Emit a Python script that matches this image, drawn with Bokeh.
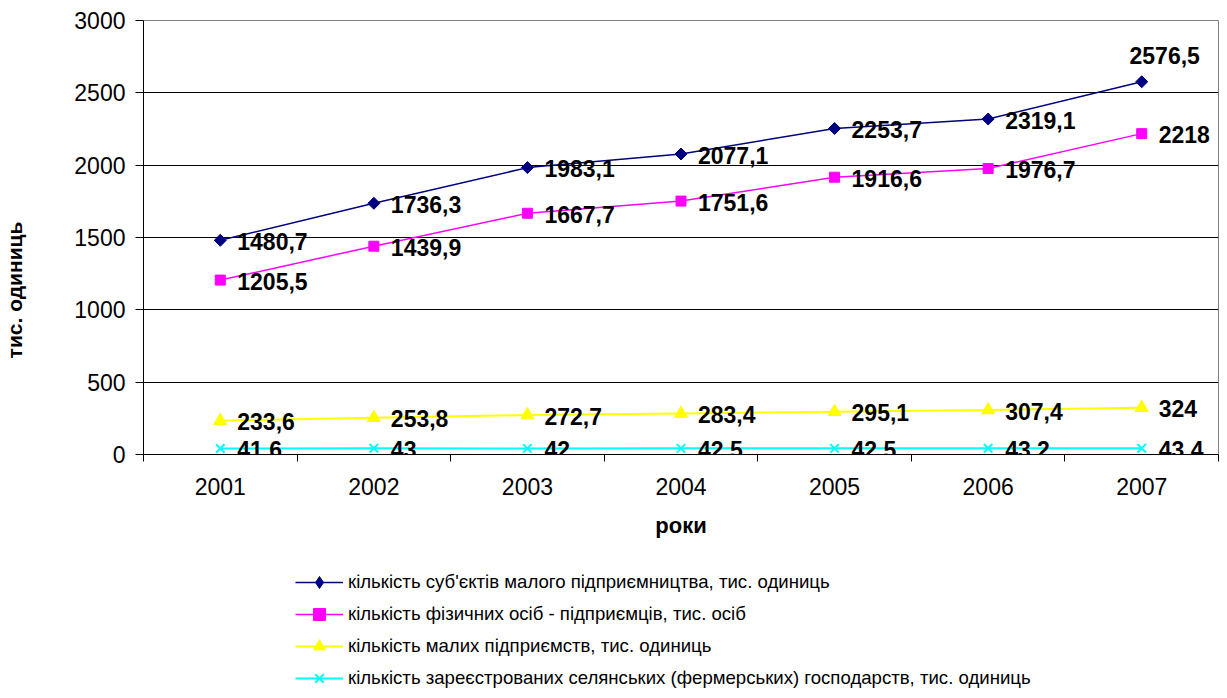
from bokeh.plotting import figure
from bokeh.layouts import column
from bokeh.models import Range1d, FixedTicker, Legend, LegendItem, ColumnDataSource
from bokeh.core.properties import value
from bokeh.embed import file_html
from bokeh.resources import INLINE
import math

years = ["2001", "2002", "2003", "2004", "2005", "2006", "2007"]
subjects = [1480.7, 1736.3, 1983.1, 2077.1, 2253.7, 2319.1, 2576.5]
persons = [1205.5, 1439.9, 1667.7, 1751.6, 1916.6, 1976.7, 2218]
small_ent = [233.6, 253.8, 272.7, 283.4, 295.1, 307.4, 324]
farms = [41.6, 43, 42, 42.5, 42.5, 43.2, 43.4]
series_names = [
    "кількість суб'єктів малого підприємництва, тис. одиниць",
    "кількість фізичних осіб - підприємців, тис. осіб",
    "кількість малих підприємств, тис. одиниць",
    "кількість зареєстрованих селянських (фермерських) господарств, тис. одиниць",
]
y_ticks = [0, 500, 1000, 1500, 2000, 2500, 3000]
y_title = "тис. одиниць"
x_title = "роки"

FONT = "Liberation Sans"

xs = [i + 0.5 for i in range(len(years))]

p = figure(width=1219, height=560, output_backend="svg", toolbar_location=None,
           x_range=Range1d(0, len(years)), y_range=Range1d(0, 3000),
           min_border_left=143, min_border_right=1, min_border_top=20,
           min_border_bottom=106)
p.background_fill_color = "white"
p.border_fill_color = "white"
p.outline_line_color = "#808080"
p.outline_line_width = 1

# x axis: labels at band centres, tick marks at band boundaries
p.xaxis.ticker = FixedTicker(ticks=xs, minor_ticks=list(range(len(years) + 1)))
p.xaxis.major_label_overrides = {x: y for x, y in zip(xs, years)}
p.xaxis.major_tick_line_color = None
p.xaxis.major_tick_out = 0
p.xaxis.major_tick_in = 0
p.xaxis.minor_tick_out = 7
p.xaxis.minor_tick_in = 0
p.xaxis.minor_tick_line_color = "black"
p.xaxis.axis_line_color = "black"
p.xaxis.major_label_text_font = FONT
p.xaxis.major_label_text_font_size = "23px"
p.xaxis.major_label_text_color = "black"
p.xaxis.major_label_standoff = 16
p.xaxis.axis_label = x_title
p.xaxis.axis_label_text_font = FONT
p.xaxis.axis_label_text_font_size = "22px"
p.xaxis.axis_label_text_font_style = "bold"
p.xaxis.axis_label_text_color = "black"
p.xaxis.axis_label_standoff = 15

p.yaxis.ticker = FixedTicker(ticks=y_ticks)
p.yaxis.minor_tick_line_color = None
p.yaxis.major_tick_out = 8
p.yaxis.major_tick_in = 0
p.yaxis.major_tick_line_color = "black"
p.yaxis.axis_line_color = "black"
p.yaxis.major_label_text_font = FONT
p.yaxis.major_label_text_font_size = "23px"
p.yaxis.major_label_text_color = "black"
p.yaxis.major_label_standoff = 10
# title centred on the whole chart area (as in the original), not on the frame
p.yaxis.axis_label = y_title + "\u00a0" * 18
p.yaxis.axis_label_text_font = FONT
p.yaxis.axis_label_text_font_size = "21px"
p.yaxis.axis_label_text_font_style = "bold"
p.yaxis.axis_label_text_color = "black"
p.yaxis.axis_label_standoff = 45

p.xgrid.grid_line_color = None
p.ygrid.ticker = FixedTicker(ticks=y_ticks)
p.ygrid.grid_line_color = "#000000"
p.ygrid.grid_line_width = 1

def fmt(v):
    return ("%g" % v).replace(".", ",")

# (values, colour, line width, marker, size, angle, legend marker)
specs = [
    (subjects, "#000080", 1.5, "square", 8.5, math.pi / 4, "diamond"),
    (persons, "#FF00FF", 1.5, "square", 10, 0, "square"),
    (small_ent, "#FFFF00", 2, "triangle", 13, 0, "triangle"),
    (farms, "#00FFFF", 2, "x", 12, 0, "x"),
]

# legend strip below the chart (its own ranges keep its copies of the series out of view)
lg = figure(width=1219, height=130, output_backend="svg", toolbar_location=None,
            x_range=Range1d(0, 1), y_range=Range1d(-20000, -19999),
            x_axis_location=None, y_axis_location=None,
            min_border_left=143, min_border_right=1, min_border_top=0, min_border_bottom=0)
lg.outline_line_color = None
lg.grid.grid_line_color = None
lg.background_fill_color = "white"
lg.border_fill_color = "white"

items = []
for idx, (vals, color, lw, marker, size, ang, lmarker) in enumerate(specs):
    src = ColumnDataSource(dict(x=xs, y=vals))
    p.line("x", "y", source=src, line_color=color, line_width=lw)
    p.scatter("x", "y", source=src, marker=marker, size=size, angle=ang,
              fill_color=color, line_color=color,
              line_width=2 if marker == "x" else 1)

    l1 = lg.line("x", "y", source=src, line_color=color, line_width=lw)
    l2 = lg.scatter("x", "y", source=src, marker=lmarker, size=size,
                    fill_color=color, line_color=color,
                    line_width=2 if marker == "x" else 1)
    items.append(LegendItem(label=series_names[idx], renderers=[l1, l2]))

    # data labels: right of the point, except the last point of the top series (above)
    n = len(vals)
    right_idx = list(range(n)) if idx != 0 else list(range(n - 1))
    rs = ColumnDataSource(dict(x=[xs[i] for i in right_idx],
                               y=[vals[i] for i in right_idx],
                               lab=[fmt(vals[i]) for i in right_idx]))
    p.text("x", "y", text="lab", source=rs, x_offset=17, y_offset=1,
           text_align="left", text_baseline="middle",
           text_font=value(FONT), text_font_size="23px", text_font_style="bold",
           text_color="black")
    if idx == 0:
        ts = ColumnDataSource(dict(x=[xs[n - 1]], y=[vals[n - 1]], lab=[fmt(vals[n - 1])]))
        p.text("x", "y", text="lab", source=ts, x_offset=23, y_offset=-26,
               text_align="center", text_baseline="middle",
               text_font=value(FONT), text_font_size="23px", text_font_style="bold",
               text_color="black")

legend = Legend(items=items, location=(152, -3), orientation="vertical",
                glyph_width=48, glyph_height=30, label_height=30, spacing=2,
                label_standoff=5, padding=0, margin=0,
                border_line_color=None, background_fill_alpha=0,
                label_text_font=FONT, label_text_font_size="18.6px",
                label_text_color="black")
lg.add_layout(legend, "center")

layout = column(p, lg, spacing=0)
open("out.html", "w").write(file_html(layout, INLINE))
